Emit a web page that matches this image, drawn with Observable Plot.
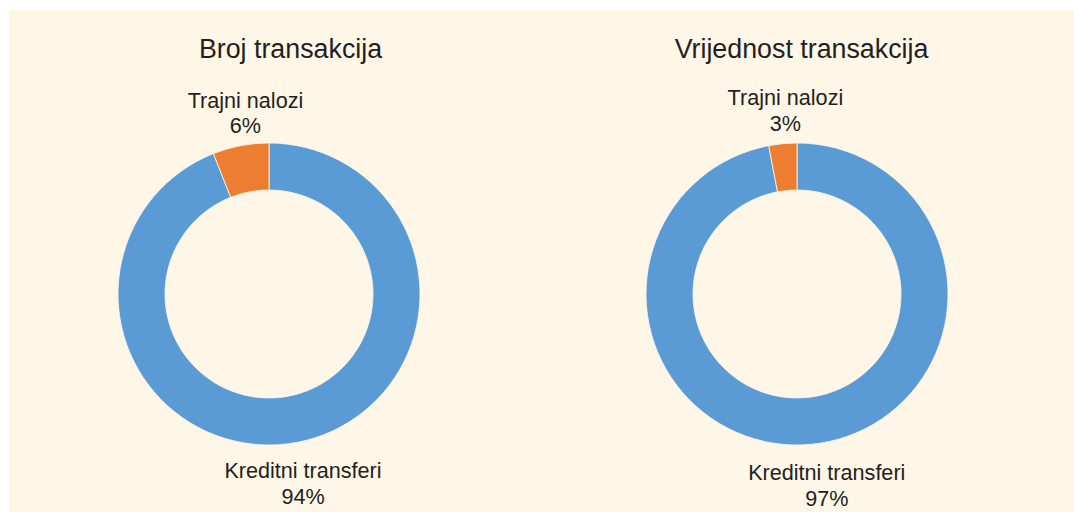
<!DOCTYPE html>
<html>
<head>
<meta charset="utf-8">
<script src="https://cdn.jsdelivr.net/npm/d3@7"></script>
<script src="https://cdn.jsdelivr.net/npm/@observablehq/plot@0.6"></script>
<style>
  html, body { margin: 0; padding: 0; background: #ffffff; }
  #page { position: relative; width: 1074px; height: 512px; overflow: hidden; }
  #panel { position: absolute; left: 9px; top: 10px; right: 0; bottom: 0; background: #fef6e6; }
  .chart { position: absolute; top: 0; }
  .chart svg { background: transparent !important; }
</style>
</head>
<body>
<div id="page">
  <div id="panel"></div>
  <div id="c1" class="chart" style="left:0px"></div>
  <div id="c2" class="chart" style="left:537px"></div>
</div>
<script>
// ---- data ----
const categories = ["Kreditni transferi", "Trajni nalozi"];
const brojValues = [94, 6];
const vrijednostValues = [97, 3];
const chartTitles = ["Broj transakcija", "Vrijednost transakcija"];

// ---- styles ----
const sliceColors = {"Kreditni transferi": "#5b9bd5", "Trajni nalozi": "#ed7d31"};
const textColor = "#231f20";
const font = "'Liberation Sans', Arial, Helvetica, sans-serif";

function donut(el, title, values, opts) {
  const W = 537, H = 512, R = 151, innerFrac = 104 / 151;
  const cx = opts.cx, cy = 294;
  const rows = categories.map((c, i) => ({category: c, value: values[i]}));
  const total = d3.sum(values);
  const pie = d3.pie().sort(null).value(d => d.value)(rows);
  const labels = pie.map(p => {
    const mid = (p.startAngle + p.endAngle) / 2;
    const top = Math.cos(mid) > 0;
    return {
      text: p.data.category + "\n" + Math.round(p.data.value / total * 100) + "%",
      x: Math.sin(mid) * (top ? 0.85 : 0.3),
      y: Math.cos(mid) * (top ? 1.09 : 1.11),
      top
    };
  });

  const arcMark = (index, scales) => {
    const sx = scales.x, sy = scales.y;
    const x0 = sx(0), y0 = sy(0);
    const r = sx(1) - sx(0);
    const arc = d3.arc().outerRadius(r).innerRadius(r * innerFrac);
    const g = d3.create("svg:g").attr("transform", `translate(${x0},${y0})`);
    g.selectAll("path").data(pie).join("path")
      .attr("d", arc)
      .attr("fill", d => sliceColors[d.data.category])
      .attr("stroke", "#fef6e6")
      .attr("stroke-width", 0.8);
    return g.node();
  };

  const chart = Plot.plot({
    width: W, height: H,
    margin: 0,
    x: {domain: [-cx / R, (W - cx) / R], range: [0, W], axis: null},
    y: {domain: [-(H - cy) / R, cy / R], range: [H, 0], axis: null},
    style: {fontFamily: font, background: "transparent", color: textColor},
    marks: [
      arcMark,
      Plot.text([title], {text: d => d, frameAnchor: "top", x: () => 0, dy: 38, dx: opts.titleDx,
        fontSize: 26.8, fill: textColor}),
      Plot.text(labels.filter(d => d.top), {x: "x", y: "y", text: "text", lineAnchor: "bottom",
        fontSize: 21.6, lineHeight: 1.17, fill: textColor}),
      Plot.text(labels.filter(d => !d.top), {x: "x", y: "y", text: "text", lineAnchor: "top",
        dx: 25, fontSize: 21.6, lineHeight: 1.22, fill: textColor})
    ]
  });
  el.appendChild(chart);
}

donut(document.getElementById("c1"), chartTitles[0], brojValues, {cx: 269, titleDx: 21});
donut(document.getElementById("c2"), chartTitles[1], vrijednostValues, {cx: 260, titleDx: 4});
</script>
</body>
</html>
